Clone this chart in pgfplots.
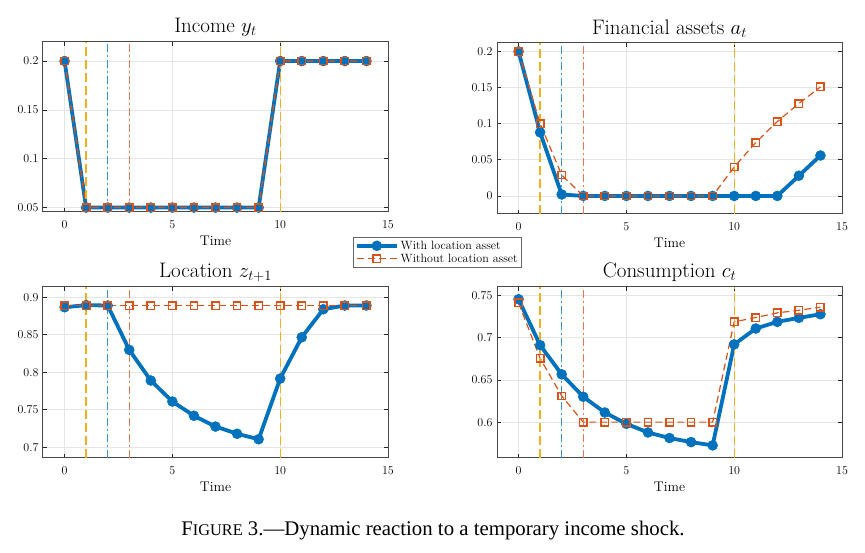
\documentclass[border=0pt]{standalone}
\usepackage{fontspec}
\usepackage{pgfplots}
\pgfplotsset{compat=1.18}
\newfontfamily\capfont{Liberation Serif}
\definecolor{mblue}{HTML}{0072BD}
\definecolor{morange}{HTML}{D95319}
\definecolor{myellow}{HTML}{EDB120}
\definecolor{maxis}{HTML}{262626}
\definecolor{vblue}{HTML}{3A93D0}
\definecolor{vorange}{HTML}{E57A52}
\pgfplotsset{
 mystyle/.style={
  scale only axis, width=345pt, height=170pt,
  xmin=-1, xmax=15, xtick={0,5,10,15},
  grid=major, major grid style={color=black!10, line width=0.7pt},
  axis line style={maxis!85, line width=1pt},
  tick style={maxis, line width=0.7pt},
  major tick length=4pt,
  tick align=inside,
  xlabel={Time},
  xlabel style={font=\fontsize{14}{16}\selectfont, yshift=-1pt},
  ticklabel style={font=\fontsize{12}{14}\selectfont},
  xticklabel style={yshift=-5pt},
  yticklabel style={xshift=-1pt},
  title style={font=\fontsize{21}{24}\selectfont, yshift=-4pt},
  yticklabel style={/pgf/number format/.cd, fixed, precision=2},
  scaled y ticks=false,
  clip=false,
 },
 withloc/.style={mblue, line width=3.8pt, mark=*, mark size=5pt, mark options={solid, fill=mblue, draw=mblue, line width=0.5pt}},
 without/.style={morange, line width=1.2pt, dash pattern=on 7pt off 4pt, mark=square, mark size=3.7pt, mark options={solid, line width=1.4pt}},
}
\newcommand{\vlines}[2]{%
 \addplot[color=myellow, line width=1.3pt, dash pattern=on 9pt off 4pt, forget plot] coordinates {(1,#1) (1,#2)};
 \addplot[color=vblue, line width=1.6pt, dash pattern=on 8pt off 3pt on 2pt off 3pt, forget plot] coordinates {(2,#1) (2,#2)};
 \addplot[color=vorange, line width=1.5pt, dash pattern=on 8pt off 3pt on 2pt off 3pt, forget plot] coordinates {(3,#1) (3,#2)};
 \addplot[color=myellow, line width=1.3pt, dash pattern=on 9pt off 4pt, forget plot] coordinates {(10,#1) (10,#2)};
}
\begin{document}
\begin{tikzpicture}[x=1pt,y=1pt]
\useasboundingbox (0,0) rectangle (865,553);
% Income
\begin{axis}[mystyle, at={(43pt,341pt)}, anchor=south west, height=170pt,
  ymin=0.0455, ymax=0.2195, ytick={0.05,0.1,0.15,0.2},
  title={Income $y_t$},
  legend style={at={(0.8986,-0.147)}, anchor=north west, font=\fontsize{12}{13.5}\selectfont,
     draw=maxis!70, line width=0.8pt, inner sep=1.5pt, row sep=-1pt},
  legend cell align=left,
  legend image code/.code={\draw[mark repeat=2,mark phase=2] plot coordinates {(0pt,0pt)(20pt,0pt)(40pt,0pt)};}]
\addplot[withloc] coordinates {(0,0.2)(1,0.05)(2,0.05)(3,0.05)(4,0.05)(5,0.05)(6,0.05)(7,0.05)(8,0.05)(9,0.05)(10,0.2)(11,0.2)(12,0.2)(13,0.2)(14,0.2)};
\addlegendentry{With location asset}
\addplot[without] coordinates {(0,0.2)(1,0.05)(2,0.05)(3,0.05)(4,0.05)(5,0.05)(6,0.05)(7,0.05)(8,0.05)(9,0.05)(10,0.2)(11,0.2)(12,0.2)(13,0.2)(14,0.2)};
\addlegendentry{Without location asset}
\vlines{0.0455}{0.2195}
\end{axis}
% Financial assets
\begin{axis}[mystyle, at={(497pt,339pt)}, anchor=south west, height=171pt,
  ymin=-0.025, ymax=0.2118, ytick={0,0.05,0.1,0.15,0.2},
  title={Financial assets $a_t$}]
\addplot[withloc] coordinates {(0,0.2)(1,0.088)(2,0.002)(3,0)(4,0)(5,0)(6,0)(7,0)(8,0)(9,0)(10,0)(11,0)(12,0)(13,0.028)(14,0.056)};
\addplot[without] coordinates {(0,0.2)(1,0.1)(2,0.029)(3,0)(4,0)(5,0)(6,0)(7,0)(8,0)(9,0)(10,0.040)(11,0.074)(12,0.103)(13,0.128)(14,0.151)};
\vlines{-0.025}{0.2118}
\end{axis}
% Location
\begin{axis}[mystyle, at={(43pt,95pt)}, anchor=south west, height=171pt,
  ymin=0.6857, ymax=0.9137, ytick={0.7,0.75,0.8,0.85,0.9},
  title={Location $z_{t+1}$}]
\addplot[withloc] coordinates {(0,0.8867)(1,0.8895)(2,0.889)(3,0.8298)(4,0.789)(5,0.761)(6,0.742)(7,0.7276)(8,0.718)(9,0.7107)(10,0.7916)(11,0.8467)(12,0.884)(13,0.889)(14,0.889)};
\addplot[without] coordinates {(0,0.8889)(1,0.8889)(2,0.8889)(3,0.8889)(4,0.8889)(5,0.8889)(6,0.8889)(7,0.8889)(8,0.8889)(9,0.8889)(10,0.8889)(11,0.8889)(12,0.8889)(13,0.8889)(14,0.8889)};
\vlines{0.6857}{0.9137}
\end{axis}
% Consumption
\begin{axis}[mystyle, at={(497pt,95pt)}, anchor=south west, height=171pt,
  ymin=0.5576, ymax=0.7598, ytick={0.6,0.65,0.7,0.75},
  title={Consumption $c_t$}]
\addplot[withloc] coordinates {(0,0.7453)(1,0.691)(2,0.6565)(3,0.630)(4,0.6114)(5,0.598)(6,0.5878)(7,0.5812)(8,0.5764)(9,0.5725)(10,0.6919)(11,0.7107)(12,0.7186)(13,0.7233)(14,0.7276)};
\addplot[without] coordinates {(0,0.741)(1,0.6754)(2,0.631)(3,0.6)(4,0.6)(5,0.6)(6,0.6)(7,0.6)(8,0.6)(9,0.6)(10,0.7186)(11,0.7237)(12,0.7292)(13,0.7323)(14,0.7359)};
\vlines{0.5576}{0.7598}
\end{axis}
\node[anchor=base, inner sep=0pt] at (433,17) {\capfont\fontsize{20.8}{24}\selectfont F{\fontsize{16.3}{19}\selectfont IGURE} 3.—Dynamic reaction to a temporary income shock.};
\end{tikzpicture}
\end{document}
